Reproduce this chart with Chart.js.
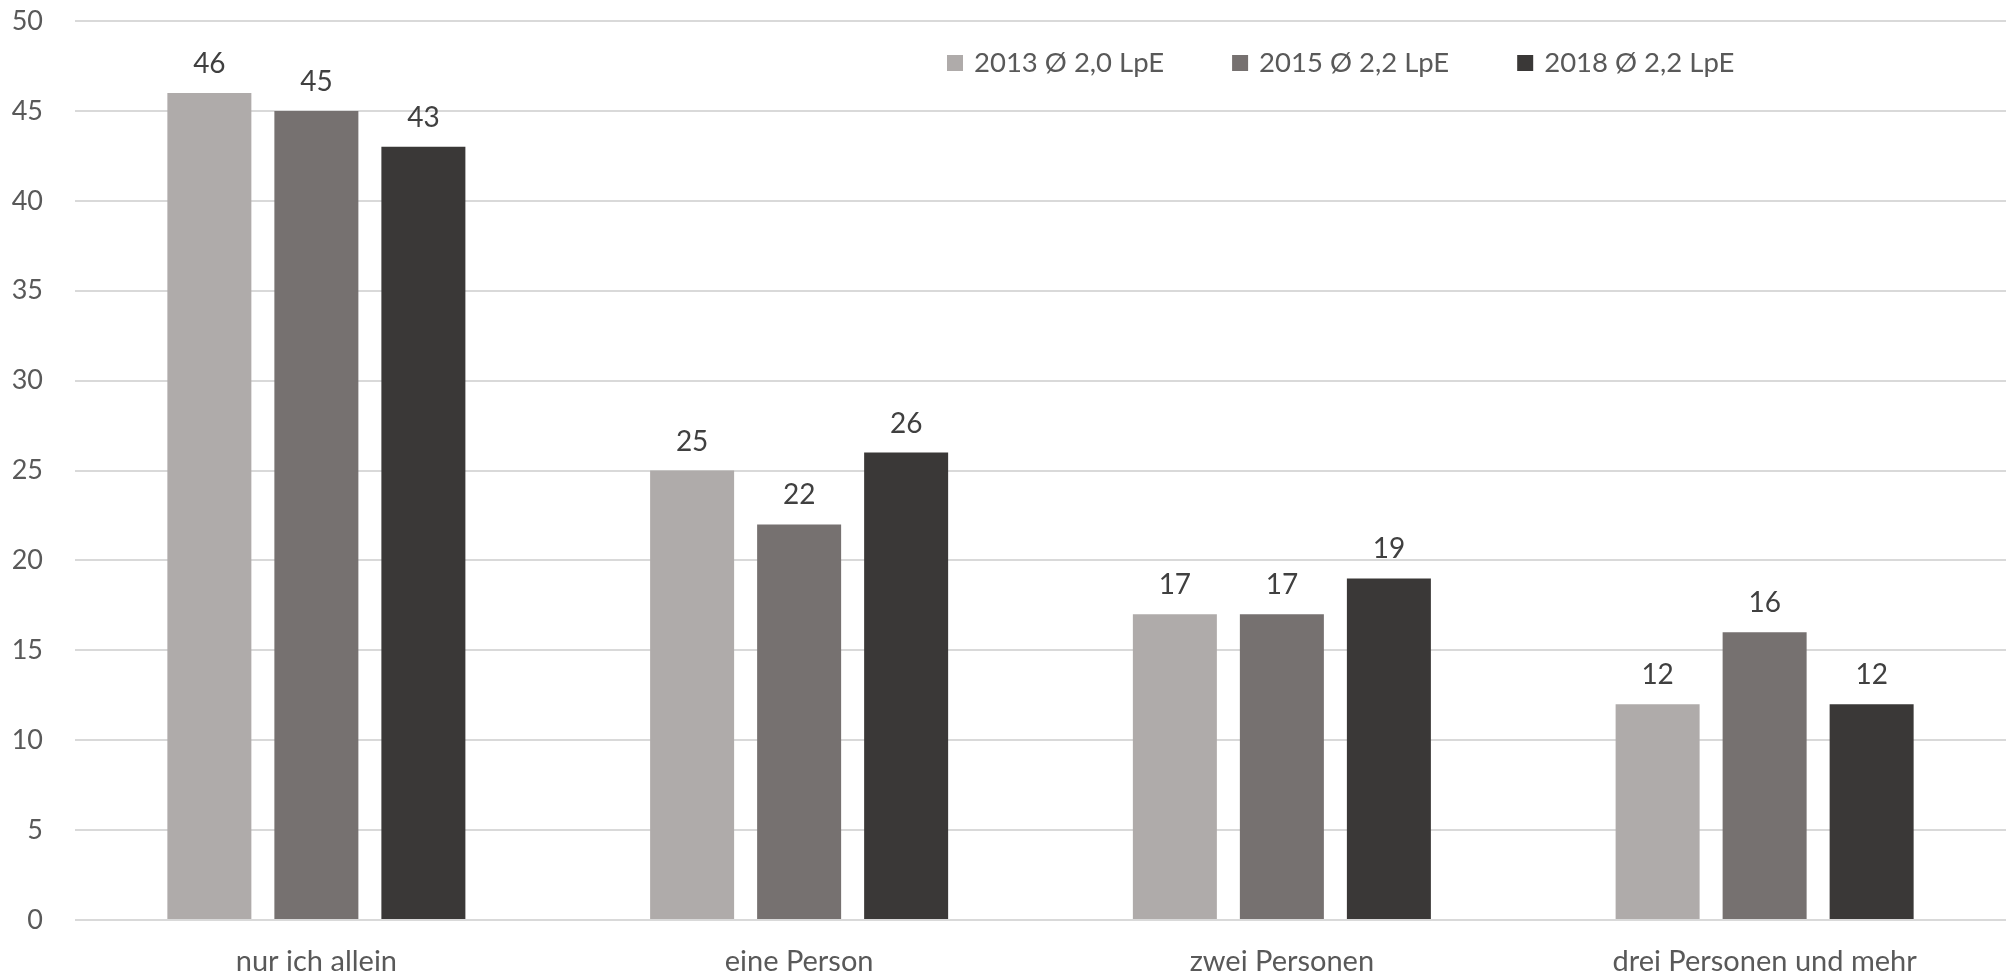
<!DOCTYPE html>
<html>
<head>
<meta charset="utf-8">
<script src="https://cdn.jsdelivr.net/npm/chart.js@4/dist/chart.umd.min.js"></script>
<style>
  html, body { margin: 0; padding: 0; background: #fff; overflow: hidden; }
  #wrap { width: 2006px; height: 974px; }
</style>
</head>
<body>
<div id="wrap"><canvas id="chart" width="2006" height="974"></canvas></div>
<script>
// --- DONNÉES ---
const categories = ['nur ich allein', 'eine Person', 'zwei Personen', 'drei Personen und mehr'];
const seriesLabels = ['2013 Ø 2,0 LpE', '2015 Ø 2,2 LpE', '2018 Ø 2,2 LpE'];
const values2013 = [46, 25, 17, 12];
const values2015 = [45, 22, 17, 16];
const values2018 = [43, 26, 19, 12];
const yTicks = [0, 5, 10, 15, 20, 25, 30, 35, 40, 45, 50];

const colors = ['#AFABAA', '#767170', '#3A3837'];
const FONT = 'Lato, "Open Sans", sans-serif';

// Étiquettes de valeur au-dessus des barres
const valueLabels = {
  id: 'valueLabels',
  afterDatasetsDraw(chart) {
    const ctx = chart.ctx;
    ctx.save();
    ctx.font = '28px ' + FONT;
    ctx.fillStyle = '#404040';
    ctx.textAlign = 'center';
    ctx.textBaseline = 'alphabetic';
    chart.data.datasets.forEach((ds, i) => {
      chart.getDatasetMeta(i).data.forEach((bar, j) => {
        ctx.fillText(ds.data[j], bar.x, bar.y - 20);
      });
    });
    ctx.restore();
  }
};

// Légende dessinée dans la zone du graphique (comme Excel)
const insideLegend = {
  id: 'insideLegend',
  afterDraw(chart) {
    const ctx = chart.ctx;
    ctx.save();
    ctx.font = '27.5px ' + FONT;
    ctx.textBaseline = 'middle';
    ctx.textAlign = 'left';
    let x = 947;
    const y = 63;
    chart.data.datasets.forEach(ds => {
      ctx.fillStyle = ds.backgroundColor;
      ctx.fillRect(x, y - 8, 16, 16);
      ctx.fillStyle = '#595959';
      ctx.fillText(ds.label, x + 27, y);
      x += 27 + ctx.measureText(ds.label).width + 68;
    });
    ctx.restore();
  }
};

const datasets = [values2013, values2015, values2018].map((vals, i) => ({
  label: seriesLabels[i],
  data: vals,
  backgroundColor: colors[i],
  borderWidth: 0,
  categoryPercentage: 0.665,
  barPercentage: 0.785
}));

new Chart(document.getElementById('chart'), {
  type: 'bar',
  data: { labels: categories, datasets: datasets },
  options: {
    responsive: false,
    animation: false,
    layout: { padding: { top: 21, right: 0, bottom: 0, left: 0 } },
    plugins: {
      legend: { display: false },
      tooltip: { enabled: false }
    },
    scales: {
      x: {
        grid: { display: false },
        border: { display: false },
        ticks: { color: '#595959', font: { family: FONT, size: 29 }, padding: 16, maxRotation: 0 },
        afterFit: s => { s.height = 54; }
      },
      y: {
        min: 0,
        max: 50,
        afterBuildTicks: s => { s.ticks = yTicks.map(v => ({ value: v })); },
        grid: { color: '#D9D9D9', lineWidth: 2, drawTicks: false },
        border: { display: false },
        ticks: { color: '#595959', font: { family: FONT, size: 27 }, padding: 32 },
        afterFit: s => { s.width = 75; s.paddingTop = 0; s.paddingBottom = 0; }
      }
    }
  },
  plugins: [valueLabels, insideLegend]
});
</script>
</body>
</html>
